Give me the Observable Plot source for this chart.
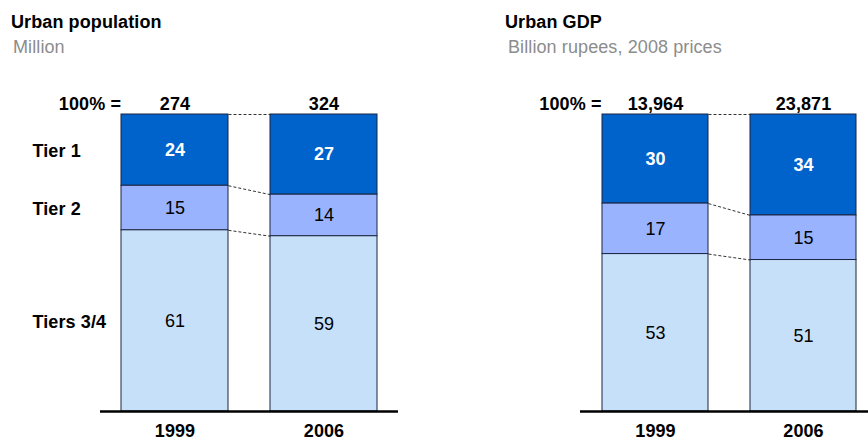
<!DOCTYPE html>
<html>
<head>
<meta charset="utf-8">
<script src="https://cdn.jsdelivr.net/npm/d3@7"></script>
<script src="https://cdn.jsdelivr.net/npm/@observablehq/plot@0.6"></script>
<style>
  html, body { margin: 0; padding: 0; background: #fff; }
  body { font-family: "Liberation Sans", Arial, sans-serif; }
  #wrap { position: relative; width: 868px; height: 443px; overflow: hidden; }
  .panel { position: absolute; top: 0; width: 434px; height: 443px; }
  .title { position: absolute; top: 12px; font-size: 18px; line-height: 20px; font-weight: bold; color: #000; letter-spacing: 0.1px; white-space: nowrap; }
  .sub { position: absolute; top: 37px; font-size: 18px; line-height: 20px; color: #8c8c8c; letter-spacing: 0.1px; white-space: nowrap; }
  .chart { position: absolute; top: 60px; left: 0; }
</style>
</head>
<body>
<div id="wrap">
  <div class="panel" style="left:0">
    <div class="title" style="left:11px">Urban population</div>
    <div class="sub" style="left:13px">Million</div>
    <div class="chart" id="p1"></div>
  </div>
  <div class="panel" style="left:434px">
    <div class="title" style="left:71px">Urban GDP</div>
    <div class="sub" style="left:74px">Billion rupees, 2008 prices</div>
    <div class="chart" id="p2"></div>
  </div>
</div>
<script>
const years = ["1999", "2006"];
const tiers = ["Tier 1", "Tier 2", "Tiers 3/4"];
const popShares1999 = [24, 15, 61];
const popShares2006 = [27, 14, 59];
const popTotals = ["274", "324"];
const gdpShares1999 = [30, 17, 53];
const gdpShares2006 = [34, 15, 51];
const gdpTotals = ["13,964", "23,871"];
const tierColors = ["#0063CC", "#99B3FF", "#C7E0FA"];

function buildRows(sharesByYear) {
  const rows = [];
  years.forEach((yr, j) => {
    let top = 100;
    sharesByYear[j].forEach((v, i) => {
      rows.push({year: yr, tier: tiers[i], value: v, y1: top - v, y2: top, mid: top - v / 2});
      top -= v;
    });
  });
  return rows;
}

function buildLinks(rows) {
  return tiers.map(t => {
    const a = rows.find(r => r.year === years[0] && r.tier === t);
    const b = rows.find(r => r.year === years[1] && r.tier === t);
    return {from: years[0], to: years[1], ya: a.y2, yb: b.y2};
  });
}

function panel(sharesByYear, totals, opts) {
  const rows = buildRows(sharesByYear);
  const links = buildLinks(rows);
  const marks = [
    Plot.barY(rows, {x: "year", y1: "y1", y2: "y2", fill: "tier", stroke: "#1b2540", strokeWidth: 1}),
    Plot.link(links, {
      x1: "from", x2: "to", y1: "ya", y2: "yb",
      stroke: "#333", strokeWidth: 1, strokeDasharray: "3,2",
      render(index, scales, values, dimensions, context, next) {
        const bx = scales.x.bandwidth;
        const bw = typeof bx === "function" ? bx() : (bx || 0);
        const x1 = Array.from(values.x1, v => v + bw / 2);
        const x2 = Array.from(values.x2, v => v - bw / 2);
        return next(index, scales, {...values, x1, x2}, dimensions, context);
      }
    }),
    Plot.text(rows.filter(r => r.tier === tiers[0]), {x: "year", y: "mid", text: d => String(d.value), fill: "white", fontWeight: "bold"}),
    Plot.text(rows.filter(r => r.tier !== tiers[0]), {x: "year", y: "mid", text: d => String(d.value), fill: "black"}),
    Plot.text([years[0]], {x: d => d, y: () => 100, text: () => "100% =", textAnchor: "end", lineAnchor: "bottom", dx: -54, dy: -5, fontWeight: "bold", fill: "black"}),
    Plot.text(years, {x: d => d, y: () => 100, text: (d, i) => totals[i], lineAnchor: "bottom", dy: -5, fontWeight: "bold", fill: "black"}),
    Plot.ruleY([0], {stroke: "black", strokeWidth: 2.5}),
    Plot.axisX({tickSize: 0, tickPadding: 13, fontWeight: "bold", label: null, fill: "black"})
  ];
  if (opts.tierLabels) {
    marks.push(Plot.text(rows.filter(r => r.year === years[0]), {frameAnchor: "left", y: "mid", text: "tier", textAnchor: "start", dx: -68, dy: 1, fontWeight: "bold", fill: "black"}));
  }
  return Plot.plot({
    width: 434,
    height: 383,
    marginTop: 54,
    marginBottom: 32,
    marginLeft: opts.marginLeft,
    marginRight: opts.marginRight,
    x: {domain: years, paddingInner: 0.282, paddingOuter: opts.paddingOuter, align: opts.align, label: null},
    y: {domain: [0, 100], axis: null},
    color: {domain: tiers, range: tierColors},
    style: {fontFamily: "'Liberation Sans', Arial, sans-serif", fontSize: "18px", letterSpacing: "0.1px", color: "black", background: "white", overflow: "visible"},
    marks
  });
}

document.getElementById("p1").append(
  panel([popShares1999, popShares2006], popTotals, {marginLeft: 100, marginRight: 36, paddingOuter: 0.141, align: 0.5, tierLabels: true})
);
document.getElementById("p2").append(
  panel([gdpShares1999, gdpShares2006], gdpTotals, {marginLeft: 146, marginRight: 0, paddingOuter: 0.1075, align: 0.656, tierLabels: false})
);
</script>
</body>
</html>
